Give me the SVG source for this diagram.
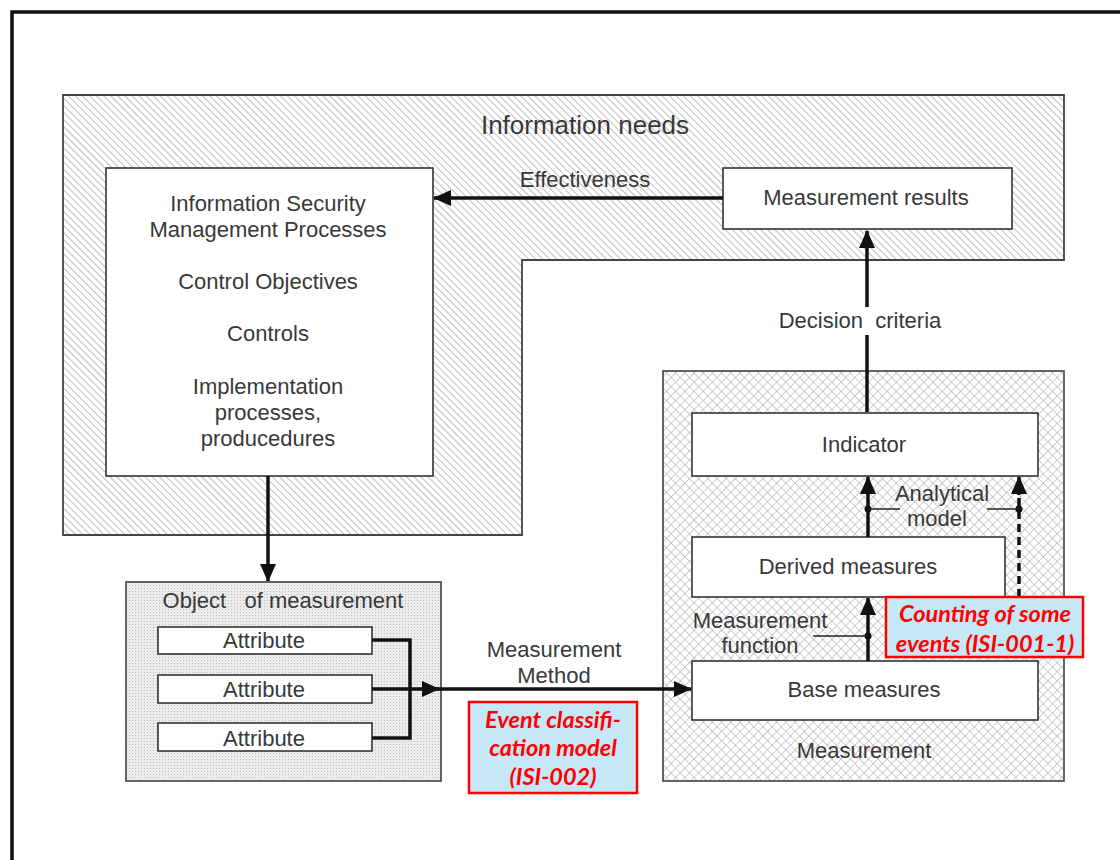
<svg xmlns="http://www.w3.org/2000/svg" width="1120" height="860" viewBox="0 0 1120 860">
<defs>
<pattern id="hatch" patternUnits="userSpaceOnUse" width="5" height="5" patternTransform="rotate(-45)">
<rect width="5" height="5" fill="#ffffff"/>
<line x1="0" y1="0" x2="0" y2="5" stroke="#8a8a8a" stroke-width="1.1"/>
</pattern>
<pattern id="cross" patternUnits="userSpaceOnUse" width="6.5" height="6.5" patternTransform="rotate(45)">
<rect width="6.5" height="6.5" fill="#ffffff"/>
<line x1="0" y1="0" x2="0" y2="6.5" stroke="#a0a0a0" stroke-width="1"/>
<line x1="0" y1="0" x2="6.5" y2="0" stroke="#a0a0a0" stroke-width="1"/>
</pattern>
<pattern id="dots" patternUnits="userSpaceOnUse" width="3" height="3">
<rect width="3" height="3" fill="#ececec"/>
<rect width="1" height="1" fill="#bdbdbd"/>
</pattern>
<marker id="arrB" markerWidth="18" markerHeight="16" refX="17" refY="8" orient="auto" markerUnits="userSpaceOnUse" viewBox="0 0 18 16">
<path d="M0,0 L18,8 L0,16 Z" fill="#111"/>
</marker>
</defs>
<style>
.t{font-family:"Liberation Sans",Arial,sans-serif;font-size:22px;fill:#383838;text-anchor:middle}
.box{fill:#fff;stroke:#333;stroke-width:1.6}
.ln{fill:none;stroke:#111;stroke-width:3.5}
.tick{fill:none;stroke:#222;stroke-width:1.5}
.call{fill:#c6e7f5;stroke:#ff0000;stroke-width:2.5}
.ct{font-family:Lato,"Liberation Sans",sans-serif;font-style:italic;font-weight:bold;font-size:23.5px;fill:#ff0000;text-anchor:middle}
</style>
<rect x="0" y="0" width="1120" height="860" fill="#fff"/>
<path d="M12,860 L12,12 L1120,12" fill="none" stroke="#111" stroke-width="3.5"/>

<g id="information-needs">
<path d="M63,95 L1064,95 L1064,260 L522,260 L522,535 L63,535 Z" fill="url(#hatch)" stroke="#444" stroke-width="1.8"/>
<text class="t" x="585" y="134" style="font-size:26px">Information needs</text>
</g>

<g id="ismp">
<rect class="box" x="106" y="168" width="327" height="308"/>
<text class="t" x="268" y="211">Information Security</text>
<text class="t" x="268" y="237">Management Processes</text>
<text class="t" x="268" y="289">Control Objectives</text>
<text class="t" x="268" y="341">Controls</text>
<text class="t" x="268" y="394">Implementation</text>
<text class="t" x="268" y="420">processes,</text>
<text class="t" x="268" y="446">producedures</text>
</g>

<g id="measurement-results">
<rect class="box" x="723" y="168" width="289" height="61"/>
<text class="t" x="866" y="205">Measurement results</text>
</g>

<g id="measurement">
<rect x="663" y="371" width="401" height="410" fill="url(#cross)" stroke="#555" stroke-width="1.8"/>
<text class="t" x="864" y="758">Measurement</text>
</g>

<g id="indicator">
<rect class="box" x="692" y="413" width="346" height="63"/>
<text class="t" x="864" y="452">Indicator</text>
</g>

<g id="derived-measures">
<rect class="box" x="692" y="537" width="313" height="60"/>
<text class="t" x="848" y="574">Derived measures</text>
</g>

<g id="base-measures">
<rect class="box" x="692" y="661" width="346" height="59"/>
<text class="t" x="864" y="697">Base measures</text>
</g>

<g id="object-of-measurement">
<rect x="126" y="582" width="315" height="199" fill="url(#dots)" stroke="#555" stroke-width="1.8"/>
<text class="t" x="283" y="608" xml:space="preserve">Object   of measurement</text>
</g>
<g id="attribute-1">
<rect class="box" x="158" y="627" width="214" height="27"/>
<text class="t" x="264" y="648">Attribute</text>
</g>
<g id="attribute-2">
<rect class="box" x="158" y="675" width="214" height="28"/>
<text class="t" x="264" y="697">Attribute</text>
</g>
<g id="attribute-3">
<rect class="box" x="158" y="723" width="214" height="28"/>
<text class="t" x="264" y="746">Attribute</text>
</g>

<g id="connectors">
<line class="ln" x1="723" y1="198" x2="434" y2="198" marker-end="url(#arrB)"/>
<text class="t" x="585" y="187">Effectiveness</text>

<line class="ln" x1="867" y1="412" x2="867" y2="335"/>
<line class="ln" x1="867" y1="307" x2="867" y2="231" marker-end="url(#arrB)"/>
<text class="t" x="860" y="328" xml:space="preserve">Decision  criteria</text>

<line class="ln" x1="268" y1="476" x2="268" y2="581" marker-end="url(#arrB)"/>

<path class="ln" d="M372,640 L410,640 L410,738 L372,738"/>
<line class="ln" x1="372" y1="689" x2="439" y2="689" marker-end="url(#arrB)"/>
<line class="ln" x1="430" y1="689" x2="691" y2="689" marker-end="url(#arrB)"/>
<text class="t" x="554" y="657">Measurement</text>
<text class="t" x="554" y="683">Method</text>

<line class="ln" x1="868" y1="537" x2="868" y2="477" marker-end="url(#arrB)"/>
<circle cx="868" cy="509" r="3.5" fill="#111"/>
<line class="tick" x1="868" y1="509" x2="900" y2="509"/>
<line x1="1019" y1="597" x2="1019" y2="492" stroke="#111" stroke-width="3.5" stroke-dasharray="8,5"/>
<line class="ln" x1="1019" y1="495" x2="1019" y2="477" marker-end="url(#arrB)"/>
<circle cx="1019" cy="509" r="3.5" fill="#111"/>
<line class="tick" x1="987" y1="509" x2="1019" y2="509"/>
<text class="t" x="942" y="501">Analytical</text>
<text class="t" x="937" y="526">model</text>

<line class="ln" x1="868" y1="661" x2="868" y2="598" marker-end="url(#arrB)"/>
<circle cx="868" cy="636" r="3.5" fill="#111"/>
<line class="tick" x1="813" y1="636" x2="868" y2="636"/>
<text class="t" x="760" y="628">Measurement</text>
<text class="t" x="760" y="653">function</text>
</g>

<g id="callout-counting">
<rect class="call" x="886" y="597" width="197" height="60"/>
<text class="ct" x="985" y="622">Counting of some</text>
<text class="ct" x="985" y="652">events (ISI-001-1)</text>
</g>

<g id="callout-event">
<rect class="call" x="469" y="702" width="168" height="91"/>
<text class="ct" x="553" y="728">Event classifi-</text>
<text class="ct" x="553" y="756">cation model</text>
<text class="ct" x="553" y="785">(ISI-002)</text>
</g>
</svg>
